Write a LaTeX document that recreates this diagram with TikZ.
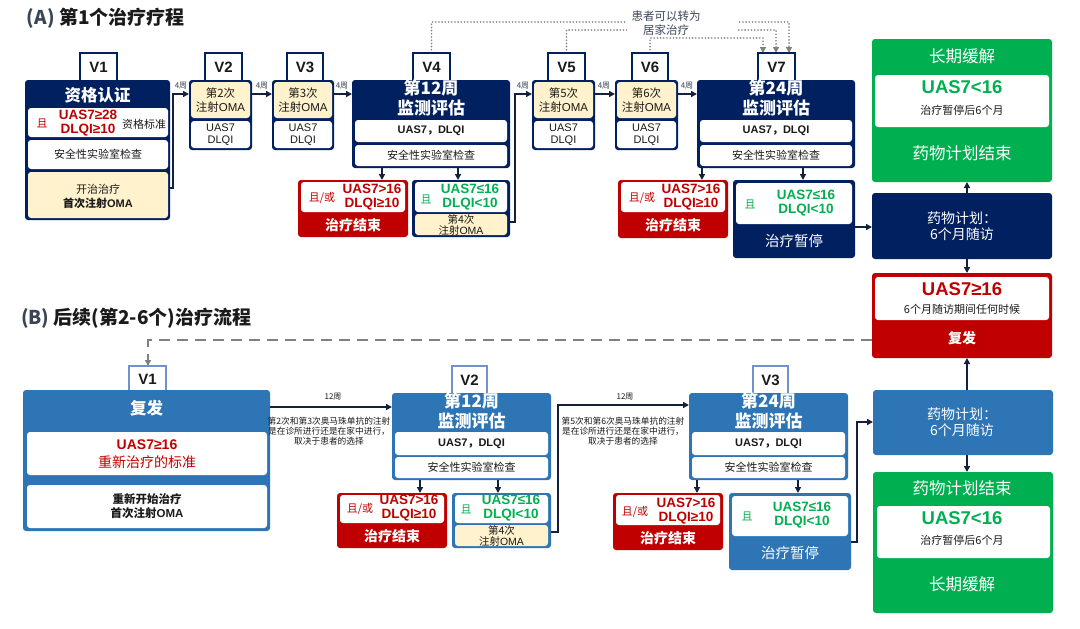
\documentclass[tikz,border=0pt]{standalone}
\usepackage{fontspec}
\setmainfont{Noto Sans CJK SC}
\newfontfamily\lat{Liberation Sans}
\usetikzlibrary{arrows.meta,calc}
\definecolor{navy}{HTML}{002060}
\definecolor{dred}{HTML}{C00000}
\definecolor{gr}{HTML}{00B050}
\definecolor{bl}{HTML}{2E75B6}
\definecolor{cream}{HTML}{FFF2CC}
\definecolor{tabbl}{HTML}{7291C8}
\definecolor{linec}{HTML}{14213D}
\definecolor{dgray}{HTML}{808080}
\definecolor{tgray}{HTML}{3A4656}
\definecolor{txtc}{HTML}{1A1A1A}
\newcommand\myfs[2]{\fontsize{#1}{#2}\selectfont}
\newcommand\latx[1]{{\lat #1}}
\newcommand\uasdl{{\lat\bfseries UAS7}{\bfseries ，}{\lat\bfseries DLQI}}
\newcommand\mybox[7]{\node[#2, minimum width={(#5-#3)*1pt}, minimum height={(#6-#4)*1pt}] (#1) at ({(#3+#5)/2},{(#4+#6)/2}) {#7};}
\tikzset{
 base/.style={inner sep=0pt, outer sep=0pt, align=center},
 navyb/.style={base, fill=navy, rounded corners=3pt},
 blueb/.style={base, fill=bl, rounded corners=3pt},
 redb/.style={base, fill=dred, rounded corners=3pt},
 greenb/.style={base, fill=gr, rounded corners=3pt},
 wbox/.style={base, fill=white, rounded corners=3pt},
 cbox/.style={base, fill=cream, rounded corners=3pt},
 injbox/.style={cbox, font=\myfs{11.5}{14}},
 valbox/.style={wbox, font=\lat\myfs{11}{12}},
 tabA/.style={base, fill=white, draw=navy, line width=1.6pt, font=\lat\bfseries\myfs{15}{16}},
 tabB/.style={base, fill=white, draw=tabbl, line width=1.6pt, font=\lat\bfseries\myfs{15}{16}},
 txt/.style={inner sep=0pt, outer sep=0pt, align=center},
 wt/.style={txt, text=white},
 ttl/.style={txt, text=white, font=\bfseries\myfs{17}{20}},
 crit/.style={txt, font=\lat\bfseries\myfs{13.5}{13.5}},
 conn/.style={draw=linec, line width=1.4pt, -{Triangle[length=6pt,width=6pt]}},
 dotconn/.style={draw=dgray, line width=1.8pt, dash pattern=on 0pt off 3.2pt, line cap=round, -{Triangle[length=6pt,width=6pt,fill=dgray]}},
 dashconn/.style={draw=dgray, line width=2.5pt, dash pattern=on 11pt off 7pt, -{Triangle[length=6pt,width=6pt]}},
 wk/.style={txt, font=\myfs{8}{9}, text=tgray},
 note/.style={txt, font=\myfs{8.7}{10}},
}
\begin{document}
\begin{tikzpicture}[x=1pt,y=-1pt, font=\myfs{11}{13}, text=txtc]
\path[use as bounding box, fill=white] (0,0) rectangle (1080,629);

% ================= Section A =================
\node[anchor=west, txt, font=\bfseries\myfs{19}{22}] (ta) at (27,18) {\textcolor{tgray}{(A)} 第1个治疗疗程};

% dotted home-treatment connectors
\draw[dotconn] (431.5,53) -- (431.5,22) -- (789,22) -- (789,53);
\draw[dotconn] (566.5,53) -- (566.5,30) -- (776,30) -- (776,53);
\draw[dotconn] (650,53) -- (650,38) -- (763,38) -- (763,53);
\node[base, fill=white, minimum width=110pt, minimum height=28pt] (cover) at (682,21) {};
\node[txt, font=\myfs{11.5}{14}, text=tgray] (home) at (666,23) {患者可以转为\\居家治疗};

% V1
\mybox{av1tab}{tabA}{80}{53}{117}{82}{V1}
\mybox{av1}{navyb}{25}{80}{170}{220}{}
\node[wt, font=\bfseries\myfs{16.5}{18}] (av1t) at (97.5,95) {资格认证};
\mybox{av1w1}{wbox}{28}{108}{168}{137}{}
\node[txt, text=dred] (av1q) at (42,123) {且};
\node[crit, text=dred] (av1c) at (88,123) {UAS7≥28\\DLQI≥10};
\node[txt] (av1s) at (144,124) {资格标准};
\mybox{av1w2}{wbox}{28}{140}{168}{169}{安全性实验室检查}
\mybox{av1c3}{cbox}{28}{172}{168}{218}{}
\node[txt] (av1s1) at (98,189) {开治治疗};
\node[txt, font=\bfseries\myfs{11}{13}] (av1s2) at (98,203) {首次注射\latx{OMA}};

% V2
\mybox{av2tab}{tabA}{205}{53}{242}{82}{V2}
\mybox{av2}{navyb}{189}{80}{252}{150}{}
\mybox{av2c}{injbox}{191}{82}{250}{118}{第2次\\注射\latx{OMA}}
\mybox{av2w}{valbox}{191}{121}{250}{148}{UAS7\\DLQI}
% V3
\mybox{av3tab}{tabA}{287}{53}{323}{82}{V3}
\mybox{av3}{navyb}{272}{80}{334}{150}{}
\mybox{av3c}{injbox}{274}{82}{332}{118}{第3次\\注射\latx{OMA}}
\mybox{av3w}{valbox}{274}{121}{332}{148}{UAS7\\DLQI}
% V4
\mybox{av4tab}{tabA}{413}{53}{450}{82}{V4}
\mybox{av4}{navyb}{352}{80}{510}{168}{}
\node[ttl] (av4t) at (431,98) {第12周\\监测评估};
\mybox{av4w1}{wbox}{355}{120}{507}{142}{\uasdl}
\mybox{av4w2}{wbox}{355}{145}{507}{166}{安全性实验室检查}
% V4 outcomes
\mybox{ar1}{redb}{298}{180}{408}{237}{}
\mybox{ar1w}{wbox}{301}{182}{405}{212}{}
\node[txt, text=dred] (ar1q) at (322,198) {且/或};
\node[crit, text=dred] (ar1c) at (372,197) {UAS7>16\\DLQI≥10};
\node[wt, font=\bfseries\myfs{14}{16}] (ar1e) at (353,225) {治疗结束};
\mybox{ag1}{navyb}{412}{180}{510}{237}{}
\mybox{ag1w}{wbox}{415}{182}{507}{212}{}
\node[txt, text=gr] (ag1q) at (426,199) {且};
\node[crit, text=gr] (ag1c) at (470,197) {UAS7≤16\\DLQI<10};
\mybox{ag1c2}{cbox}{415}{214}{507}{235}{}
\node[txt, font=\myfs{10.5}{11}] (ag1i) at (461,224.5) {第4次\\注射\latx{OMA}};
% V5
\mybox{av5tab}{tabA}{548}{53}{585}{82}{V5}
\mybox{av5}{navyb}{532}{80}{595}{150}{}
\mybox{av5c}{injbox}{534}{82}{593}{118}{第5次\\注射\latx{OMA}}
\mybox{av5w}{valbox}{534}{121}{593}{148}{UAS7\\DLQI}
% V6
\mybox{av6tab}{tabA}{632}{53}{668}{82}{V6}
\mybox{av6}{navyb}{615}{80}{678}{150}{}
\mybox{av6c}{injbox}{617}{82}{676}{118}{第6次\\注射\latx{OMA}}
\mybox{av6w}{valbox}{617}{121}{676}{148}{UAS7\\DLQI}
% V7
\mybox{av7tab}{tabA}{758}{53}{795}{82}{V7}
\mybox{av7}{navyb}{697}{80}{855}{168}{}
\node[ttl] (av7t) at (776,98) {第24周\\监测评估};
\mybox{av7w1}{wbox}{700}{120}{852}{142}{\uasdl}
\mybox{av7w2}{wbox}{700}{145}{852}{166}{安全性实验室检查}
% V7 outcomes
\mybox{ar2}{redb}{618}{180}{728}{238}{}
\mybox{ar2w}{wbox}{621}{182}{725}{212}{}
\node[txt, text=dred] (ar2q) at (642,198) {且/或};
\node[crit, text=dred] (ar2c) at (691,197) {UAS7>16\\DLQI≥10};
\node[wt, font=\bfseries\myfs{14}{16}] (ar2e) at (673,225) {治疗结束};
\mybox{ap}{navyb}{733}{180}{855}{258}{}
\mybox{apw}{wbox}{736}{183}{852}{224}{}
\node[txt, text=gr] (apq) at (750,204) {且};
\node[crit, text=gr] (apc) at (806,203) {UAS7≤16\\DLQI<10};
\node[wt, font=\myfs{14.5}{16}] (ape) at (794,241) {治疗暂停};

% connectors A
\draw[conn] (av1.east |- 0,188) -- (173,188) -- (173,94) -- (av2.west |- 0,94);
\draw[conn] (av2.east |- 0,94) -- (av3.west |- 0,94);
\draw[conn] (av3.east |- 0,94) -- (av4.west |- 0,94);
\draw[conn] (ag1.east |- 0,222) -- (515,222) -- (515,94) -- (av5.west |- 0,94);
\draw[conn] (av5.east |- 0,94) -- (av6.west |- 0,94);
\draw[conn] (av6.east |- 0,94) -- (av7.west |- 0,94);
\node[wk] (w1) at (181,86) {4周};
\node[wk] (w2) at (262,86) {4周};
\node[wk] (w3) at (342,86) {4周};
\node[wk] (w4) at (523,86) {4周};
\node[wk] (w5) at (604,86) {4周};
\node[wk] (w6) at (687,86) {4周};
\draw[conn] (382,0 |- av4.south) -- (382,0 |- ar1.north);
\draw[conn] (458,0 |- av4.south) -- (458,0 |- ag1.north);
\draw[conn] (702,0 |- av7.south) -- (702,0 |- ar2.north);
\draw[conn] (803,0 |- av7.south) -- (803,0 |- ap.north);

% ================= Right column top =================
\mybox{rg}{greenb}{872}{39}{1052}{182}{}
\node[wt, font=\myfs{16.5}{18}] (rgt) at (962,56) {长期缓解};
\mybox{rgw}{wbox}{875}{75}{1049}{127}{}
\node[txt, text=gr, font=\lat\bfseries\myfs{18.5}{19}] (rgc) at (962,87) {UAS7<16};
\node[txt] (rgs) at (962,110) {治疗暂停后6个月};
\node[wt, font=\myfs{16.5}{18}] (rgb) at (962,153) {药物计划结束};
\mybox{rn}{navyb}{872}{193}{1052}{259}{}
\node[wt, font=\myfs{14}{16}] (rnt) at (962,226) {药物计划：\\6个月随访};
\mybox{rr}{redb}{872}{273}{1052}{358}{}
\mybox{rrw}{wbox}{875}{277}{1049}{320}{}
\node[txt, text=dred, font=\lat\bfseries\myfs{18.5}{19}] (rrc) at (962,289) {UAS7≥16};
\node[txt] (rrs) at (962,309) {6个月随访期间任何时候};
\node[wt, font=\bfseries\myfs{14}{16}] (rre) at (962,338) {复发};
\draw[conn] (ap.east |- 0,227) -- (rn.west |- 0,227);
\draw[conn] (967,0 |- rn.north) -- (967,0 |- rg.south);
\draw[conn] (967,0 |- rn.south) -- (967,0 |- rr.north);

% ================= Section B =================
\node[anchor=west, txt, font=\bfseries\myfs{19}{22}] (tb) at (21,318) {\textcolor{tgray}{(B)} 后续(第2-6个)治疗流程};
\draw[dashconn] (rr.west |- 0,340) -- (148,340) -- (148,366);

% B V1
\mybox{bv1tab}{tabB}{129}{366}{166}{392}{V1}
\mybox{bv1}{blueb}{23}{390}{270}{531}{}
\node[wt, font=\bfseries\myfs{16.5}{18}] (bv1t) at (146.5,408) {复发};
\mybox{bv1w1}{wbox}{27}{432}{267}{475}{}
\node[txt, text=dred, font=\lat\bfseries\myfs{14}{15}] (bv1c) at (147,445) {UAS7≥16};
\node[txt, text=dred, font=\myfs{14}{15}] (bv1s) at (147,462) {重新治疗的标准};
\mybox{bv1w2}{wbox}{27}{485}{267}{528}{}
\node[txt, font=\bfseries\myfs{11.5}{14}] (bv1r) at (147,506) {重新开始治疗\\首次注射\latx{OMA}};

% B V2
\mybox{bv2tab}{tabB}{452}{366}{487}{395}{V2}
\mybox{bv2}{blueb}{392}{393}{551}{480}{}
\node[ttl] (bv2t) at (471.5,411) {第12周\\监测评估};
\mybox{bv2w1}{wbox}{395}{432}{548}{455}{\uasdl}
\mybox{bv2w2}{wbox}{395}{457}{548}{478}{安全性实验室检查}
\mybox{br1}{redb}{337}{493}{447}{548}{}
\mybox{br1w}{wbox}{340}{495}{444}{523}{}
\node[txt, text=dred] (br1q) at (360,509) {且/或};
\node[crit, text=dred] (br1c) at (409,508) {UAS7>16\\DLQI≥10};
\node[wt, font=\bfseries\myfs{14}{16}] (br1e) at (392,536) {治疗结束};
\mybox{bg1}{blueb}{452}{493}{551}{548}{}
\mybox{bg1w}{wbox}{455}{495}{548}{523}{}
\node[txt, text=gr] (bg1q) at (466,509) {且};
\node[crit, text=gr] (bg1c) at (511,508) {UAS7≤16\\DLQI<10};
\mybox{bg1c2}{cbox}{455}{525}{548}{546}{}
\node[txt, font=\myfs{10.5}{11}] (bg1i) at (501.5,535.5) {第4次\\注射\latx{OMA}};

% B V3
\mybox{bv3tab}{tabB}{753}{366}{788}{395}{V3}
\mybox{bv3}{blueb}{689}{393}{848}{480}{}
\node[ttl] (bv3t) at (768.5,411) {第24周\\监测评估};
\mybox{bv3w1}{wbox}{692}{432}{845}{455}{\uasdl}
\mybox{bv3w2}{wbox}{692}{457}{845}{478}{安全性实验室检查}
\mybox{br2}{redb}{613}{493}{723}{550}{}
\mybox{br2w}{wbox}{616}{495}{720}{525}{}
\node[txt, text=dred] (br2q) at (635,512) {且/或};
\node[crit, text=dred] (br2c) at (686,511) {UAS7>16\\DLQI≥10};
\node[wt, font=\bfseries\myfs{14}{16}] (br2e) at (668,538) {治疗结束};
\mybox{bp}{blueb}{729}{493}{851}{570}{}
\mybox{bpw}{wbox}{732}{496}{848}{536}{}
\node[txt, text=gr] (bpq) at (747,516) {且};
\node[crit, text=gr] (bpc) at (802,515) {UAS7≤16\\DLQI<10};
\node[wt, font=\myfs{14.5}{16}] (bpe) at (790,553) {治疗暂停};

% connectors B
\draw[conn] (bv1.east |- 0,407) -- (bv2.west |- 0,407);
\node[wk, text=txtc] (b12a) at (333,397) {12周};
\node[note] (n1) at (329,431) {第2次和第3次奥马珠单抗的注射\\是在诊所进行还是在家中进行，\\取决于患者的选择};
\draw[conn] (bg1.east |- 0,532) -- (558,532) -- (558,405) -- (bv3.west |- 0,405);
\node[wk, text=txtc] (b12b) at (625,397) {12周};
\node[note] (n2) at (623,431) {第5次和第6次奥马珠单抗的注射\\是在诊所进行还是在家中进行，\\取决于患者的选择};
\draw[conn] (420,0 |- bv2.south) -- (420,0 |- br1.north);
\draw[conn] (498,0 |- bv2.south) -- (498,0 |- bg1.north);
\draw[conn] (697,0 |- bv3.south) -- (697,0 |- br2.north);
\draw[conn] (798,0 |- bv3.south) -- (798,0 |- bp.north);

% Right column bottom
\mybox{rbn}{blueb}{873}{390}{1053}{455}{}
\node[wt, font=\myfs{14}{16}] (rbnt) at (962,422) {药物计划：\\6个月随访};
\mybox{rbg}{greenb}{873}{472}{1053}{613}{}
\node[wt, font=\myfs{16.5}{18}] (rbgt) at (962,488) {药物计划结束};
\mybox{rbgw}{wbox}{877}{506}{1050}{558}{}
\node[txt, text=gr, font=\lat\bfseries\myfs{18.5}{19}] (rbgc) at (962,518) {UAS7<16};
\node[txt] (rbgs) at (962,540) {治疗暂停后6个月};
\node[wt, font=\myfs{16.5}{18}] (rbgb) at (962,584) {长期缓解};
\draw[conn] (bp.east |- 0,542) -- (857,542) -- (857,422) -- (rbn.west |- 0,422);
\draw[conn] (967,0 |- rbn.north) -- (967,0 |- rr.south);
\draw[conn] (967,0 |- rbn.south) -- (967,0 |- rbg.north);
\end{tikzpicture}
\end{document}
